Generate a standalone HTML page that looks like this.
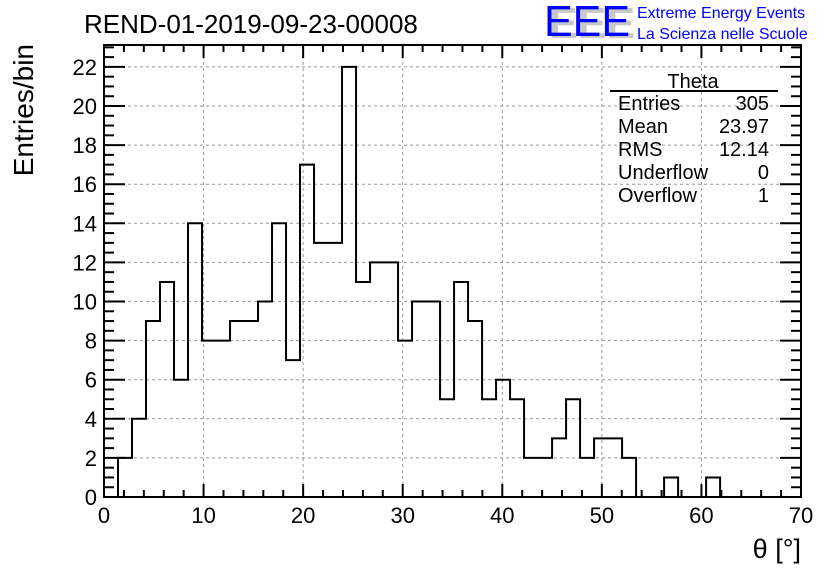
<!DOCTYPE html>
<html><head><meta charset="utf-8"><style>
body{margin:0;background:#fff;}
svg{display:block;font-family:"Liberation Sans",sans-serif;}
</style></head><body>
<svg id="chart" width="836" height="572" viewBox="0 0 836 572">
<rect width="836" height="572" fill="#fff"/>
<text x="84" y="33" font-size="26">REND-01-2019-09-23-00008</text>
<g>
<text x="549" y="38" font-size="44" fill="#c8c8c8" font-weight="bold" textLength="86" lengthAdjust="spacingAndGlyphs">EEE</text>
<text x="544" y="36" font-size="44" fill="#0000ff" textLength="86" lengthAdjust="spacingAndGlyphs">EEE</text>
<text x="637" y="18" font-size="16" fill="#0000ff">Extreme Energy Events</text>
<text x="637" y="39" font-size="16" fill="#0000ff">La Scienza nelle Scuole</text>
</g>
<g id="grid"></g>
<g id="hist"></g>
<g id="axes"></g>
<g font-size="20">
<text x="693" y="88" text-anchor="middle">Theta</text>
<line x1="610" y1="91" x2="778" y2="91" stroke="#000" stroke-width="2"/>
<text x="618" y="110">Entries</text><text x="769" y="110" text-anchor="end">305</text>
<text x="618" y="133">Mean</text><text x="769" y="133" text-anchor="end">23.97</text>
<text x="618" y="156">RMS</text><text x="769" y="156" text-anchor="end">12.14</text>
<text x="618" y="179">Underflow</text><text x="769" y="179" text-anchor="end">0</text>
<text x="618" y="202">Overflow</text><text x="769" y="202" text-anchor="end">1</text>
</g>
<text x="801" y="558" font-size="27" text-anchor="end">θ [°]</text>
<text transform="translate(33,44) rotate(-90)" font-size="28" text-anchor="end">Entries/bin</text>
</svg>
<script>
const counts=[0,2,4,9,11,6,14,8,8,9,9,10,14,7,17,13,13,22,11,12,12,8,10,10,5,11,9,5,6,5,2,2,3,5,2,3,3,2,0,0,1,0,0,1,0,0,0,0,0,0];
const binWidth=1.40625;
const xTicks=[0,10,20,30,40,50,60,70];
const yTicks=[0,2,4,6,8,10,12,14,16,18,20,22];
const X0=104,X1=801,Y0=497,Y1=45,XMAX=70,YMAX=23.12;
const ns="http://www.w3.org/2000/svg";
const xs=v=>X0+(X1-X0)*v/XMAX, ys=v=>Y0-(Y0-Y1)*v/YMAX;
function mk(t,a,p){const e=document.createElementNS(ns,t);for(const k in a)e.setAttribute(k,a[k]);p.appendChild(e);return e;}
const grid=document.getElementById('grid'),axes=document.getElementById('axes'),hist=document.getElementById('hist');
xTicks.slice(1,-1).forEach(v=>{const l=mk('line',{x1:xs(v),x2:xs(v),y1:Y0,y2:Y1,stroke:'#999','stroke-dasharray':'3,3'},grid);

});
yTicks.slice(1).forEach(v=>{const l=mk('line',{x1:X0,x2:X1,y1:ys(v),y2:ys(v),stroke:'#999','stroke-dasharray':'3,3'},grid);

});
let d='';let started=false;
counts.forEach((c,i)=>{const xa=xs(i*binWidth),xb=xs((i+1)*binWidth);
if(xa>=X1)return;const xe=Math.min(xb,X1);
if(!started){d+=`M${xa},${ys(c)}`;started=true;}else d+=`L${xa},${ys(c)}`;d+=`L${xe},${ys(c)}`;});
const p=mk('path',{d:d,fill:'none',stroke:'#000','stroke-width':2},hist);


const fr=mk('rect',{x:X0,y:Y1,width:X1-X0,height:Y0-Y1,fill:'none',stroke:'#000','stroke-width':2},axes);


for(let v=0;v<=XMAX;v+=2){const maj=v%10===0,L=maj?13:7;
mk('line',{x1:xs(v),x2:xs(v),y1:Y0,y2:Y0-L,stroke:'#000','stroke-width':2},axes);
mk('line',{x1:xs(v),x2:xs(v),y1:Y1,y2:Y1+L,stroke:'#000','stroke-width':2},axes);}
for(let v=0;v<=YMAX;v+=0.5){const maj=Math.abs(v%2)<1e-9,L=maj?21:10;
mk('line',{x1:X0,x2:X0+L,y1:ys(v),y2:ys(v),stroke:'#000','stroke-width':2},axes);
mk('line',{x1:X1,x2:X1-L,y1:ys(v),y2:ys(v),stroke:'#000','stroke-width':2},axes);}
xTicks.forEach(v=>{const t=mk('text',{x:xs(v),y:523,'font-size':22,'text-anchor':'middle'},axes);t.textContent=v;

});
yTicks.forEach(v=>{const t=mk('text',{x:97,y:ys(v)+8,'font-size':22,'text-anchor':'end'},axes);t.textContent=v;

});
</script>
</body></html>
